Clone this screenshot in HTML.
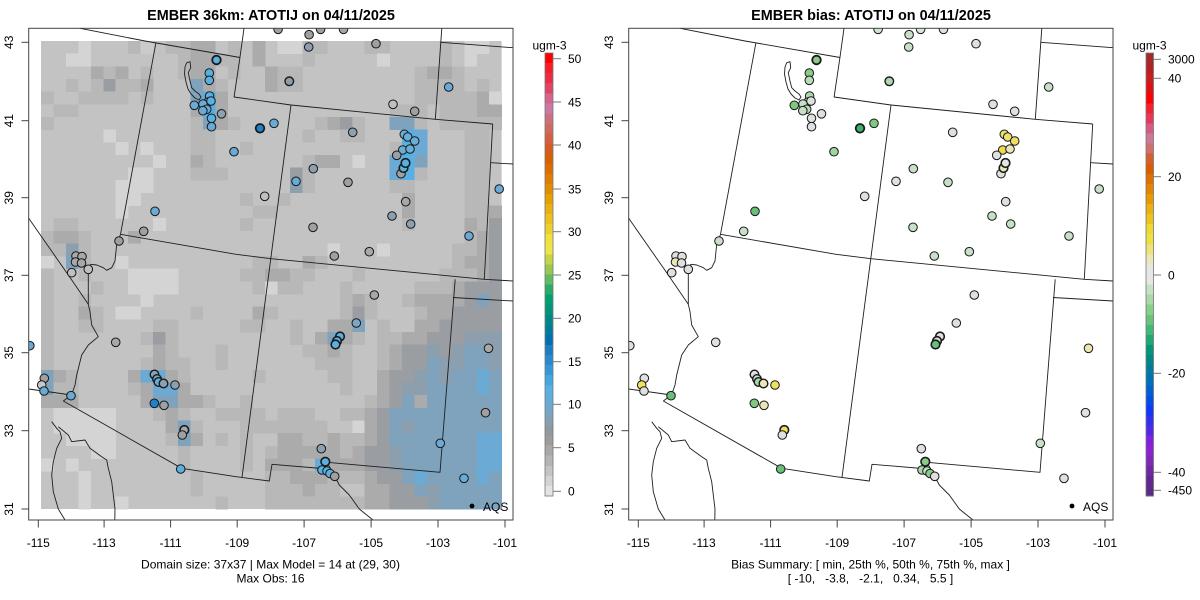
<!DOCTYPE html>
<html><head><meta charset="utf-8">
<style>
html,body{margin:0;padding:0;background:#fff;}
svg{display:block;}
text{font-family:"Liberation Sans",Arial,sans-serif;fill:#000;}
</style></head><body>
<svg id="s" width="1200" height="600" viewBox="0 0 1200 600" xmlns="http://www.w3.org/2000/svg" xmlns:xlink="http://www.w3.org/1999/xlink">
<defs>
<clipPath id="cl"><rect x="28.7" y="28.3" width="484.3" height="491.7"/></clipPath>
<clipPath id="cr"><rect x="628.7" y="28.3" width="484.3" height="491.7"/></clipPath>
<g id="bnd" fill="none" stroke="#1e1e1e" stroke-width="0.9" stroke-linejoin="round">
<polyline points="80,28.3 145,41 240,57.5"/>
<polyline points="155.9,42.8 120.5,234.3"/>
<polyline points="244,28.3 239.9,57.8 234.1,97 291,105 435.3,119.3 492.7,124"/>
<polyline points="291,105 242,477.3"/>
<polyline points="120.5,234.3 236,254.3 271,258.7 484.3,279.3 513,281"/>
<polyline points="441.8,28.3 435.3,119.3"/>
<polyline points="440.7,42.3 513,47.7"/>
<polyline points="492.7,124 484.3,279.3"/>
<polyline points="490.8,162.7 513,164"/>
<polyline points="455.2,279.3 440,472.3 327,462.3"/>
<polyline points="453,297.5 513,301"/>
<polyline points="327,462.3 334,475 339.3,485 349.3,495 359.3,509 373,520"/>
<polyline points="322,468.5 272,464.3 269.3,481 236,476.7 181.7,468.3 63.3,401"/>
<polyline points="28.7,389 71.5,395"/>
<polyline points="120.5,234.3 118.6,240 116.7,244.3 115,261 111.7,267.7 106.7,270.3 103.3,267.7 96.7,265 91,264.3 88.3,267.7 88.3,304.3 90,311.7 91.7,325 98.3,336.7 88.3,345 81.7,355 76.7,375 75,385 71.5,395 63.3,401"/>
<polyline points="28.7,218.3 68.3,275 88.3,304.3"/>
<polyline points="51.7,421.7 56.7,428.3 60,431.7 61.7,438.3 56.7,448.3 53.3,461.7 51.7,475 53.3,491.7 58.3,509 65,520"/>
<polyline points="58.3,426.7 68.3,435 71.7,441.7 85,440 90,448.3 101.7,456.7 106.7,460 108.3,468.3 111.7,481.7 115,509 114.8,520"/>
<polyline points="186.7,62.7 190,61.7 190.7,67.7 188.3,72.7 190,81 191.7,87.7 195,91 199,94 201,97 199,100 195,98 191,94 188,89 186,82 184.5,74 185,67 186.7,62.7"/>
</g>
</defs>

<text x="271" y="20.2" text-anchor="middle" font-size="14.4" font-weight="bold">EMBER 36km: ATOTIJ on 04/11/2025</text>
<text x="871" y="20.2" text-anchor="middle" font-size="14.4" font-weight="bold">EMBER bias: ATOTIJ on 04/11/2025</text>

<g clip-path="url(#cl)">
  <rect x="41" y="41" width="460.6" height="468" fill="#c3c3c3"/>
  <g id="grid" shape-rendering="crispEdges"></g>
  <use href="#bnd" xlink:href="#bnd"/>
  <g id="circL"></g>
</g>
<rect x="28.7" y="28.3" width="484.3" height="491.7" fill="none" stroke="#444" stroke-width="1"/>

<g clip-path="url(#cr)">
  <use href="#bnd" xlink:href="#bnd" transform="translate(600,0)"/>
  <g id="circR"></g>
</g>
<rect x="628.7" y="28.3" width="484.3" height="491.7" fill="none" stroke="#444" stroke-width="1"/>

<circle cx="472" cy="506" r="2.4" fill="#000"/>
<text x="483" y="511" font-size="12">AQS</text>
<circle cx="1072" cy="506" r="2.4" fill="#000"/>
<text x="1083" y="511" font-size="12">AQS</text>

<g stroke="#444" stroke-width="1">
  <line x1="38.3" y1="520" x2="38.3" y2="527.5"/>
  <line x1="104.1" y1="520" x2="104.1" y2="527.5"/>
  <line x1="170.6" y1="520" x2="170.6" y2="527.5"/>
  <line x1="237.2" y1="520" x2="237.2" y2="527.5"/>
  <line x1="304.1" y1="520" x2="304.1" y2="527.5"/>
  <line x1="371.1" y1="520" x2="371.1" y2="527.5"/>
  <line x1="438" y1="520" x2="438" y2="527.5"/>
  <line x1="505" y1="520" x2="505" y2="527.5"/>
  <line x1="28.7" y1="42.3" x2="21.5" y2="42.3"/>
  <line x1="28.7" y1="120.7" x2="21.5" y2="120.7"/>
  <line x1="28.7" y1="197.7" x2="21.5" y2="197.7"/>
  <line x1="28.7" y1="275.3" x2="21.5" y2="275.3"/>
  <line x1="28.7" y1="352.7" x2="21.5" y2="352.7"/>
  <line x1="28.7" y1="430.7" x2="21.5" y2="430.7"/>
  <line x1="28.7" y1="509" x2="21.5" y2="509"/>
</g>
<g stroke="#444" stroke-width="1" transform="translate(600,0)">
  <line x1="38.3" y1="520" x2="38.3" y2="527.5"/>
  <line x1="104.1" y1="520" x2="104.1" y2="527.5"/>
  <line x1="170.6" y1="520" x2="170.6" y2="527.5"/>
  <line x1="237.2" y1="520" x2="237.2" y2="527.5"/>
  <line x1="304.1" y1="520" x2="304.1" y2="527.5"/>
  <line x1="371.1" y1="520" x2="371.1" y2="527.5"/>
  <line x1="438" y1="520" x2="438" y2="527.5"/>
  <line x1="505" y1="520" x2="505" y2="527.5"/>
  <line x1="28.7" y1="42.3" x2="21.5" y2="42.3"/>
  <line x1="28.7" y1="120.7" x2="21.5" y2="120.7"/>
  <line x1="28.7" y1="197.7" x2="21.5" y2="197.7"/>
  <line x1="28.7" y1="275.3" x2="21.5" y2="275.3"/>
  <line x1="28.7" y1="352.7" x2="21.5" y2="352.7"/>
  <line x1="28.7" y1="430.7" x2="21.5" y2="430.7"/>
  <line x1="28.7" y1="509" x2="21.5" y2="509"/>
</g>

<g font-size="12" text-anchor="middle">
  <text x="38.3" y="547">-115</text><text x="104.1" y="547">-113</text><text x="170.6" y="547">-111</text><text x="237.2" y="547">-109</text>
  <text x="304.1" y="547">-107</text><text x="371.1" y="547">-105</text><text x="438" y="547">-103</text><text x="505" y="547">-101</text>
  <text x="638.3" y="547">-115</text><text x="704.1" y="547">-113</text><text x="770.6" y="547">-111</text><text x="837.2" y="547">-109</text>
  <text x="904.1" y="547">-107</text><text x="971.1" y="547">-105</text><text x="1038" y="547">-103</text><text x="1105" y="547">-101</text>
</g>
<g font-size="12" text-anchor="middle">
  <text transform="translate(12.8,42.3) rotate(-90)">43</text>
  <text transform="translate(12.8,120.7) rotate(-90)">41</text>
  <text transform="translate(12.8,197.7) rotate(-90)">39</text>
  <text transform="translate(12.8,275.3) rotate(-90)">37</text>
  <text transform="translate(12.8,352.7) rotate(-90)">35</text>
  <text transform="translate(12.8,430.7) rotate(-90)">33</text>
  <text transform="translate(12.8,509) rotate(-90)">31</text>
  <text transform="translate(612.8,42.3) rotate(-90)">43</text>
  <text transform="translate(612.8,120.7) rotate(-90)">41</text>
  <text transform="translate(612.8,197.7) rotate(-90)">39</text>
  <text transform="translate(612.8,275.3) rotate(-90)">37</text>
  <text transform="translate(612.8,352.7) rotate(-90)">35</text>
  <text transform="translate(612.8,430.7) rotate(-90)">33</text>
  <text transform="translate(612.8,509) rotate(-90)">31</text>
</g>

<g font-size="12" text-anchor="middle">
  <text x="270.5" y="568.3">Domain size: 37x37 | Max Model = 14 at (29, 30)</text>
  <text x="270.5" y="582.3">Max Obs: 16</text>
  <text x="870.5" y="568.3" xml:space="preserve">Bias Summary: [ min, 25th %, 50th %, 75th %, max ]</text>
  <text x="870.5" y="582.3" xml:space="preserve">[ -10,   -3.8,   -2.1,   0.34,   5.5 ]</text>
</g>

<g id="cbL" shape-rendering="crispEdges"></g>
<g id="cbR" shape-rendering="crispEdges"></g>
<rect x="545" y="53" width="8" height="443" fill="none" stroke="#777" stroke-width="0.8"/>
<rect x="1146" y="53" width="7.5" height="443" fill="none" stroke="#777" stroke-width="0.8"/>
<g stroke="#777" stroke-width="1">
  <line x1="553" y1="58.7" x2="561" y2="58.7"/><line x1="553" y1="102" x2="561" y2="102"/>
  <line x1="553" y1="145" x2="561" y2="145"/><line x1="553" y1="189" x2="561" y2="189"/>
  <line x1="553" y1="231.7" x2="561" y2="231.7"/><line x1="553" y1="275" x2="561" y2="275"/>
  <line x1="553" y1="318.3" x2="561" y2="318.3"/><line x1="553" y1="361.7" x2="561" y2="361.7"/>
  <line x1="553" y1="404.3" x2="561" y2="404.3"/><line x1="553" y1="447.7" x2="561" y2="447.7"/>
  <line x1="553" y1="491.3" x2="561" y2="491.3"/>
  <line x1="1153.5" y1="59.3" x2="1161" y2="59.3"/><line x1="1153.5" y1="78.3" x2="1161" y2="78.3"/>
  <line x1="1153.5" y1="176.7" x2="1161" y2="176.7"/><line x1="1153.5" y1="275" x2="1161" y2="275"/>
  <line x1="1153.5" y1="373.3" x2="1161" y2="373.3"/><line x1="1153.5" y1="472.3" x2="1161" y2="472.3"/>
  <line x1="1153.5" y1="490.3" x2="1161" y2="490.3"/>
</g>
<g font-size="12">
  <text x="568" y="63">50</text><text x="568" y="106.3">45</text><text x="568" y="149.3">40</text>
  <text x="568" y="193.3">35</text><text x="568" y="236">30</text><text x="568" y="279.3">25</text>
  <text x="568" y="322.6">20</text><text x="568" y="366">15</text><text x="568" y="408.6">10</text>
  <text x="568" y="452">5</text><text x="568" y="495.6">0</text>
  <text x="549.5" y="49.5" text-anchor="middle">ugm-3</text>
  <text x="1168" y="63.6">3000</text><text x="1168" y="82.6">40</text><text x="1168" y="181">20</text>
  <text x="1168" y="279.3">0</text><text x="1168" y="377.6">-20</text><text x="1168" y="476.6">-40</text>
  <text x="1168" y="494.6">-450</text>
  <text x="1149.5" y="49.5" text-anchor="middle">ugm-3</text>
</g>
</svg>

<script>
(function(){
var NS='http://www.w3.org/2000/svg';
function el(tag,a,p){var e=document.createElementNS(NS,tag);for(var k in a)e.setAttribute(k,a[k]);p.appendChild(e);return e;}
var pal={a:'#d4d4d4',b:'#cbcbcb',c:'#c3c3c3',d:'#b8b8b8',e:'#ababab',g:'#9a9ea2',h:'#8c9fae',i:'#7fa3bd',j:'#6aaad4',k:'#56b0e4'};
var rows=[
"ccca cccd bcdd eecd ceca addc ccdd cccc dcaac",
"ccaa cccc cccd eedd cecc cdcc ccca cccc dcacc",
"cccc edec dccd eecd cced dccc cccc ccde edccc",
"ccdc dgdd eccc iedc cced dccc cccc ccdd ddcdc",
"dccd dddc dccc ikec cccc cccc cccc ccdd dddea",
"cddc cccc cccc ekec cccc cccc cccc dddc dddee",
"dccc cccc cccc died cccc ccde gdcc iidc ddddd",
"cccc cacc cccc ddcc cccc cdcc ddcc ckjc ccddc",
"cccc ccac accc ddcc dccc cccc cccc dkjc ccddc",
"cccc cccc cacc edcc cccc cdee cacc jkic ccddc",
"cccc ccca accc dddc cccc gdcc cccc jkdc ccddc",
"cccc ccaa accc cccc cccc hdcc cccc ddcc ccddc",
"cccc ccaa cccc cccc dccd cccc cccc cecc ccddc",
"cccc ccac cccc cccc cddc cccc cccc cecc ccdde",
"cddc cccc cacc cccc dccc cccc cccc cdcc ccedg",
"deed ccce cccc cccc cccc cccc cccc cccc ccdeg",
"ddhd cccc cccc cccc cccc ccca ccca cccc cddeg",
"acid ccac cccc cccc cddc cedc cccc cccc cdeeg",
"dccd ccca aaac cccc ddee ddcc cdcc cccc dddeg",
"dccc dcca aaac cccc cdad dccc dccc ccdd deggg",
"dccd cccc accc cccc cccc cccc dedc cdee eegig",
"dcce dcaa cccc dccc cedc cccc dgdc ccde egggg",
"dccd dccc cddc cccc ddcc dcce eicd ccee ggggg",
"dccc cccc dgdc cccc cccc dcei edcd deeg gghhh",
"dccc cccc cedc ccdc cccc cdde dccd eggh ghiih",
"dccc cccc dedd ccdc cccc ccdd dccd eggi hhiih",
"iedc ccce jjed cccc cdcc cccd dcce gghi hiiji",
"iddc cccd ejje cccc cccc cccc dcce ghhi iiiji",
"eeec cccc eiie edcc dccc cccc ccde giei iiiii",
"caaa aacc cded ccdd ddcd ddcc ddeg iiii iiiii",
"caaa aacc ccei dccc dddd dddc caeg ihii iiiii",
"ccaa aacc ccdi ecdc dcce edde ddeg iiii iiijj",
"cccc aacc cccd cccc dcde eeee degg hiii iiijj",
"acac cccc cccd cccc dcee edje eegg hiii iiijj",
"ccca cccc cccc dccc ccdd eeed ddeg giji iiiji",
"ccca cccc cccc dccc ccdd dedd ccee ggih iiiii",
"ccca ccac cccc ccdc ccdd dddd ddee gggh iiiii"
];
var g=document.getElementById('grid');
for(var j=0;j<37;j++){
  var r=(rows[j]||'').replace(/ /g,'');
  for(var i=0;i<37;i++){
    var ch=r.charAt(i)||'c';
    if(ch==='c'||!pal[ch])continue;
    el('rect',{x:(41+12.45*i).toFixed(2),y:(41+12.65*j).toFixed(2),width:'12.75',height:'12.95',fill:pal[ch]},g);
  }
}
var data=[
[278.1,29.3,'#a0a0a0','#d0e6d0',1],
[309.1,34.7,'#a0a0a0','#c8e0c8',1],
[320.6,29.3,'#a0a0a0','#d8e8d8',1],
[343.5,29.3,'#a8a8a8','#e0e0e0',1],
[308.7,47,'#8c9eb0','#c8e0c8',1],
[376,43.7,'#a0a0a0','#e0e0e0',1],
[216.5,60,'#5ab0e0','#88cc88',1.8],
[209.3,73,'#5ab0e0','#88cc88',1],
[209.3,80.3,'#5ab0e0','#b8dcb8',1],
[289.3,81.3,'#8c9eac','#b0d8b0',1.4],
[448.7,87,'#6aaad6','#c8e0c8',1],
[194.3,105.3,'#6aaad6','#80c880',1],
[209.6,96,'#5ab0e0','#b0d8b0',1],
[208,102,'#6aaad6','#b8dcb8',1],
[203,104,'#6aaad6','#c8e0c8',1],
[211,101,'#5ab0e0','#e0e0e0',1],
[206.7,109.3,'#6aaad6','#b8dcb8',1],
[202.8,110.7,'#6aaad6','#c8e0c8',1],
[221.5,113.8,'#8ca0b0','#e0e0e0',1],
[211.5,118.3,'#5ab0e0','#e0e0e0',1],
[211.5,126.7,'#6aaad6','#e0e0e0',1],
[260,128.3,'#2080c8','#40b070',1.8],
[274,123.3,'#6aaad6','#80c880',1],
[234,151.7,'#6aaad6','#a0d4a0',1],
[393,104.3,'#c0c0c0','#e0e0e0',1],
[414.7,111.3,'#a0a0a0','#e0e0e0',1],
[352.7,132.3,'#8ca0b0','#e0e0e0',1],
[404.3,134.3,'#6aaed6','#ece070',1],
[407.7,137,'#6aaed6','#ece070',1],
[414.7,141,'#6aaed6','#f0e060',1],
[402.7,150,'#6aaed6','#f0d850',1],
[410,149,'#6aaed6','#ece6b8',1],
[396.7,155.3,'#9aa0a6','#e0e0e0',1],
[401,173.7,'#a0a0a0','#e0e0e0',1],
[403.5,168,'#5ab0e0','#e6e6b0',1.6],
[405.5,163,'#5ab0e0','#e6e6e6',1.6],
[313.3,168.7,'#8ca0b0','#c8e0c8',1],
[296,181.3,'#6aaad6','#e0e0e0',1],
[348,182.3,'#a0a0a0','#c8e0c8',1],
[264.7,196.3,'#c0c0c0','#e0e0e0',1],
[405.7,201.7,'#a8a8a8','#e0e0e0',1],
[499.2,189,'#6aaad6','#c8e0c8',1],
[155,211.3,'#6aaad6','#68c078',1],
[392,216,'#8ca0b0','#c8e0c8',1],
[410.7,224,'#8ca0b0','#c8e0c8',1],
[313,227.3,'#a0a0a0','#c8e0c8',1],
[143.7,231.3,'#a0a0a0','#c8e0c8',1],
[469,236,'#6aaad6','#c8e0c8',1],
[119,241,'#a0a0a0','#c8e0c8',1],
[369.3,251.7,'#a8a8a8','#c8e0c8',1],
[334.3,256,'#a0a0a0','#c8e0c8',1],
[76,256,'#a8a8a8','#e0e0e0',1],
[82,256.5,'#a8a8a8','#e0e0e0',1],
[75.5,262,'#a8a8a8','#ece6b8',1],
[81.5,263,'#a8a8a8','#e0e0e0',1],
[88.3,269.3,'#c0c0c0','#e0e0e0',1],
[71.7,272.7,'#c0c0c0','#e0e0e0',1],
[374.3,295,'#a8a8a8','#e0e0e0',1],
[29.8,345.7,'#6aaad6','#e0e0e0',1],
[115.7,342.3,'#a8a8a8','#e0e0e0',1],
[356.3,323,'#7fa6c2','#e0e0e0',1],
[340,336.5,'#5ab0e0','#e0e0e0',1.6],
[337,341,'#5ab0e0','#e0e0e0',1.6],
[335.5,344.5,'#5ab0e0','#68c078',1.6],
[488.5,348.3,'#a8a8a8','#ece6b0',1],
[44.3,378.3,'#a0a0a0','#e0e0e0',1],
[41.7,385,'#c8c8c8','#f0e060',1],
[44,391,'#6aaad6','#e0e0e0',1],
[71,395.7,'#6aaad6','#68c078',1],
[154.5,374.5,'#8ca0b0','#e0e0e0',1.4],
[157,379,'#6aaad6','#c8e0c8',1.4],
[158.5,382,'#6aaad6','#a8d8a8',1.4],
[163.5,383.5,'#8ca0b0','#ece6b8',1.4],
[175,385,'#8ca0b0','#f0e060',1],
[154.3,403.3,'#2080c8','#80c880',1],
[164,405.3,'#a0a0a0','#ece6b0',1],
[184.3,430,'#a8a8a8','#f0e060',1.6],
[182.3,435,'#a0a0a0','#e0e0e0',1],
[180.7,469,'#5ab0e0','#68c078',1],
[485.5,412.7,'#a0a0a0','#e0e0e0',1],
[440.3,443.3,'#6aaad6','#c8e0c8',1],
[321.3,448.7,'#8ca0b0','#e0e0e0',1],
[325.3,461.7,'#5ab0e0','#88cc88',1.6],
[322,470,'#5ab0e0','#a8d8a8',1],
[327,471,'#5ab0e0','#c8e0c8',1],
[330,473.5,'#5ab0e0','#88cc88',1],
[334.7,476.3,'#a0a0a0','#e0e0e0',1],
[464,478.3,'#6aaad6','#e0e0e0',1]
];
var cL=document.getElementById('circL'),cR=document.getElementById('circR');
for(var n=0;n<data.length;n++){
  var d=data[n];
  el('circle',{cx:d[0],cy:d[1],r:4.3,fill:d[2],stroke:'#1a1a1a','stroke-width':d[4]},cL);
  el('circle',{cx:d[0]+600,cy:d[1],r:4.3,fill:d[3],stroke:'#1a1a1a','stroke-width':d[4]},cR);
}
var lp=['#ff0000','#f81c24','#ec2c44','#e04466','#d8648e','#cc78a4','#cc7080','#d06a60','#d46040','#d85a20','#d86000','#dc6c00','#e07c00','#e48c00','#e6a000','#e8b010','#ecc020','#ecd030','#f0e040','#f0e448','#c8d448','#98c850','#60bc60','#28ac68','#00a070','#009478','#008888','#007c9c','#0070b0','#1c7cc4','#2888d0','#3498d8','#44a8e0','#58b0e4','#64acd8','#74a6c8','#84a0b4','#9098a0','#9c9c9c','#a8a8a8','#b4b4b4','#c4c4c4','#d4d4d4','#e4e4e4'];
var rp=['#a52a2a','#b22222','#c81e1e','#e01010','#ff0000','#f8202c','#e83858','#d85a86','#cc7898','#d26e6e','#d4602e','#d85e00','#e07000','#e48400','#e89a00','#ecb010','#ecc420','#f0d830','#eee040','#ece47a','#ece6b8','#e6e6e6','#e6e6e6','#c8e0c8','#a8daa8','#88d088','#68c478','#40b878','#20a874','#009878','#008888','#007c9c','#0070b8','#0060d0','#0050e8','#1038f8','#3030f0','#5028e8','#8020e0','#9020d0','#8028b8','#7028a0','#602890','#5c2a88'];
var cbL=document.getElementById('cbL'),cbR=document.getElementById('cbR');
var sh=443/44;
for(var k=0;k<44;k++){
  var y=53+k*sh;
  el('rect',{x:545,y:y.toFixed(2),width:8,height:(sh+0.5).toFixed(2),fill:lp[k]},cbL);
  el('rect',{x:1146,y:y.toFixed(2),width:7.5,height:(sh+0.5).toFixed(2),fill:rp[k]},cbR);
}
})();
</script>
</body></html>
